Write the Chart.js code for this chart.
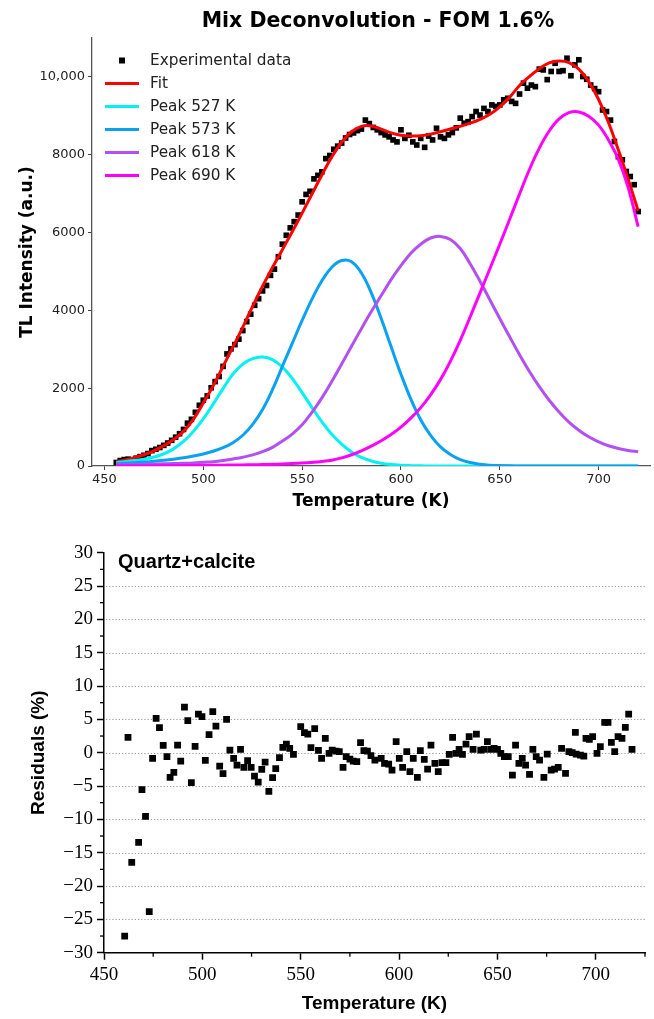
<!DOCTYPE html>
<html>
<head>
<meta charset="utf-8">
<script src="https://cdn.jsdelivr.net/npm/chart.js@4.4.0/dist/chart.umd.min.js"></script>
<style>
  html, body { margin: 0; padding: 0; background: #fff; }
  canvas { position: absolute; left: 0; }
  #top { top: 0; }
  #bottom { top: 520px; }
</style>
</head>
<body>
<canvas id="top" width="654" height="520"></canvas>
<canvas id="bottom" width="654" height="499"></canvas>
<script>
// ---- top chart: deconvolution ----
const topTitleText = 'Mix Deconvolution - FOM 1.6%'
const topXTicks = [450, 500, 550, 600, 650, 700]
const topYTicks = [0, 2000, 4000, 6000, 8000, 10000]
const topYTickLabels = ['0', '2000', '4000', '6000', '8000', '10,000']

const expTemps = [456, 458, 460, 462, 464, 466, 468, 470, 472, 474, 476, 478, 480, 482, 484, 486, 488, 490, 492, 494,
  496, 498, 500, 502, 504, 506, 508, 510, 512, 514, 516, 518, 520, 522, 524, 526, 528, 530, 532, 534,
  536, 538, 540, 542, 544, 546, 548, 550, 552, 554, 556, 558, 560, 562, 564, 566, 568, 570, 572, 574,
  576, 578, 580, 582, 584, 586, 588, 590, 592, 594, 596, 598, 600, 602, 604, 606, 608, 610, 612, 614,
  616, 618, 620, 622, 624, 626, 628, 630, 632, 634, 636, 638, 640, 642, 644, 646, 648, 650, 652, 654,
  656, 658, 660, 662, 664, 666, 668, 670, 672, 674, 676, 678, 680, 682, 684, 686, 688, 690, 692, 694,
  696, 698, 700, 702, 704, 706, 708, 710, 712, 714, 716, 718, 720]
const expValues = [90, 140, 165, 175, 160, 200, 240, 275, 320, 395, 430, 475, 530, 590, 660, 740, 830, 940, 1100, 1200,
  1380, 1560, 1690, 1800, 2010, 2170, 2300, 2560, 2880, 3010, 3120, 3260, 3480, 3710, 3900, 4130, 4300, 4500, 4640, 4900,
  5060, 5380, 5700, 5930, 6120, 6280, 6450, 6790, 6980, 7060, 7380, 7470, 7560, 7900, 7980, 8140, 8220, 8300, 8430, 8520,
  8560, 8620, 8660, 8890, 8800, 8700, 8640, 8570, 8510, 8460, 8380, 8330, 8640, 8420, 8500, 8330, 8250, 8420, 8190, 8480,
  8380, 8680, 8460, 8420, 8510, 8570, 8690, 8940, 8810, 8850, 8980, 9110, 9020, 9190, 9110, 9280, 9240, 9280, 9410, 9450,
  9370, 9320, 9560, 9840, 9710, 9790, 9750, 10200, 10180, 9930, 10140, 10350, 10140, 10160, 10480, 10030, 10310, 10440, 10010, 9940,
  9790, 9700, 9620, 9150, 9110, 8890, 8340, 7950, 7870, 7570, 7440, 7230, 6540]

const curveTemps = [456, 460, 465, 470, 475, 480, 485, 490, 495, 500, 505, 510, 515, 520, 525, 530, 535, 540, 545, 550,
  555, 560, 565, 570, 575, 580, 585, 590, 595, 600, 605, 610, 615, 620, 625, 630, 635, 640, 645, 650,
  655, 660, 665, 670, 675, 680, 685, 690, 695, 700, 705, 710, 715, 720]
const fitValues = [105, 150, 215, 290, 390, 520, 680, 890, 1200, 1620, 2060, 2560, 3060, 3570, 4110, 4620, 5100, 5560, 6020, 6500,
  6990, 7480, 7940, 8320, 8590, 8730, 8740, 8660, 8560, 8500, 8480, 8490, 8530, 8590, 8660, 8730, 8810, 8910, 9040, 9230,
  9480, 9780, 10010, 10210, 10360, 10410, 10370, 10200, 9880, 9420, 8830, 8120, 7360, 6560]
const peak527 = [90, 110, 140, 175, 230, 310, 440, 630, 890, 1210, 1590, 1990, 2360, 2620, 2760, 2800, 2735, 2545, 2250, 1885,
  1500, 1135, 815, 560, 360, 220, 130, 72, 38, 19, 9, 4, 2, 1, 0, 0, 0, 0, 0, 0,
  0, 0, 0, 0, 0, 0, 0, 0, 0, 0, 0, 0, 0, 0]
const peak573 = [60, 70, 85, 100, 120, 145, 175, 210, 255, 310, 380, 470, 600, 790, 1070, 1450, 1960, 2560, 3150, 3740,
  4290, 4760, 5110, 5280, 5250, 4960, 4450, 3790, 3070, 2360, 1720, 1190, 785, 490, 295, 165, 88, 45, 21, 10,
  5, 2, 1, 0, 0, 0, 0, 0, 0, 0, 0, 0, 0, 0]
const peak618 = [25, 30, 35, 40, 48, 55, 62, 70, 80, 95, 110, 140, 180, 225, 285, 370, 480, 640, 820, 1060,
  1380, 1750, 2170, 2620, 3080, 3530, 3970, 4380, 4790, 5150, 5470, 5700, 5860, 5900, 5820, 5590, 5200, 4750, 4270, 3790,
  3320, 2860, 2430, 2040, 1690, 1390, 1130, 920, 750, 620, 520, 450, 400, 365]
const peak690 = [5, 6, 7, 8, 9, 10, 11, 13, 15, 17, 19, 22, 25, 28, 32, 37, 44, 52, 62, 75,
  92, 115, 150, 210, 290, 390, 510, 650, 810, 1000, 1230, 1500, 1830, 2220, 2690, 3230, 3830, 4450, 5070, 5700,
  6340, 6990, 7620, 8170, 8610, 8920, 9080, 9100, 8990, 8760, 8380, 7880, 7150, 6150]

// ---- bottom chart: residuals ----
const resLabel = 'Quartz+calcite'
const resXTicks = [450, 500, 550, 600, 650, 700]
const resYTicks = [30, 25, 20, 15, 10, 5, 0, -5, -10, -15, -20, -25, -30]
const resGridLines = [25, 20, 15, 10, 5, 0, -5, -10, -15, -20, -25]
const resTemps = [460.5, 462.2, 464.1, 467.6, 469.3, 471.1, 473.0, 474.7, 476.5, 478.2, 480.1, 482.0, 483.6, 485.5, 487.4,
  489.0, 490.9, 492.6, 494.4, 496.3, 498.0, 499.8, 501.5, 503.4, 505.3, 506.9, 508.8, 510.5, 512.3, 514.0,
  515.9, 517.6, 519.4, 521.1, 523.0, 524.8, 526.5, 528.4, 530.2, 531.9, 533.8, 535.7, 537.3, 539.2, 540.9,
  542.7, 544.4, 546.3, 550.0, 551.9, 553.6, 555.2, 557.1, 559.0, 560.6, 562.5, 564.4, 566.0, 567.9, 569.6,
  571.5, 573.1, 575.0, 576.7, 578.5, 580.4, 582.1, 583.9, 585.7, 587.7, 590.9, 592.6, 594.7, 596.4, 598.5,
  600.1, 601.8, 603.9, 605.5, 607.2, 609.3, 610.8, 612.8, 614.5, 616.2, 618.2, 619.9, 621.8, 623.8, 625.5,
  627.2, 628.9, 630.5, 632.2, 634.0, 635.6, 637.6, 639.3, 641.5, 643.2, 644.9, 646.6, 648.3, 650.0, 651.7,
  653.5, 655.5, 657.6, 659.2, 660.9, 662.6, 664.3, 666.3, 668.0, 669.7, 671.4, 673.6, 675.3, 677.3, 679.0,
  680.9, 682.6, 684.6, 686.3, 688.0, 689.6, 690.0, 692.2, 693.9, 695.0, 696.7, 698.4, 700.6, 702.3, 704.5,
  706.2, 707.9, 709.6, 711.3, 713.3, 715.0, 716.7, 718.4]
const resValues = [-27.5, 2.3, -16.45, -13.45, -5.55, -9.55, -23.85, -0.85, 5.15, 3.75, 1.1, -0.6, -3.7, -2.95, 1.15,
  -1.25, 6.85, 4.8, -4.5, 0.95, 5.8, 5.4, -1.15, 2.7, 6.15, 4.0, -2.0, -3.15, 5.0, 0.4,
  -0.85, -1.85, 0.5, -2.2, -1.2, -2.2, -3.5, -4.4, -2.5, -1.4, -5.8, -3.75, -2.4, -0.75, 0.8,
  1.3, 0.65, -0.25, 3.9, 3.0, 2.8, 0.75, 3.6, 0.35, -0.85, 2.15, -0.1, 0.4, 0.25, 0.15,
  -2.2, -0.6, -0.95, -1.25, -1.35, 1.5, 0.3, 0.25, -0.45, -1.1, -0.85, -1.6, -1.7, -2.6, 1.65,
  -0.85, -2.2, 0.15, -2.85, -0.85, -3.7, 0.3, -1.0, -2.45, 1.15, -1.6, -2.85, -1.5, -1.5, -0.25,
  2.3, -0.1, 0.5, -0.25, 1.3, 2.4, 0.5, 2.8, 0.4, 0.5, 1.65, 0.5, 0.65, 0.5, -0.1,
  -0.6, -0.6, -3.35, 1.15, -1.6, -0.85, -1.85, -3.25, 0.5, -0.6, -1.1, -3.7, -0.2, -2.6, -2.45,
  -2.2, 0.65, -3.1, 0.15, 0, 3.05, -0.2, -0.35, -0.5, 2.15, 2.0, 2.4, -0.1, 0.9, 4.55,
  4.55, 1.55, 0.15, 2.4, 2.15, 3.8, 5.8, 0.5]

const toPoints = (xs, ys) => xs.map((x, i) => ({x: x, y: ys[i]}))

const curve = (label, color, values, order) => ({
  label: label,
  data: toPoints(curveTemps, values),
  borderColor: color,
  backgroundColor: color,
  borderWidth: 3,
  pointRadius: 0,
  showLine: true,
  tension: 0.4,
  order: order
})

// title centred over the axes, legend drawn inside the plot
const topDecor = {
  id: 'topDecor',
  afterDraw(chart) {
    const {ctx, chartArea} = chart
    ctx.save()
    ctx.fillStyle = '#000'
    ctx.font = 'bold 20.5px "DejaVu Sans"'
    ctx.textAlign = 'center'
    ctx.textBaseline = 'middle'
    ctx.fillText(topTitleText, (chartArea.left + chartArea.right) / 2 + 7, 22)

    ctx.font = '15.3px "DejaVu Sans"'
    ctx.textAlign = 'left'
    chart.data.datasets.forEach((ds, i) => {
      const y = chartArea.top + 22.5 + i * 23
      const x0 = chartArea.left + 13
      if (ds.showLine) {
        ctx.strokeStyle = ds.borderColor
        ctx.lineWidth = 3
        ctx.beginPath()
        ctx.moveTo(x0, y)
        ctx.lineTo(x0 + 34, y)
        ctx.stroke()
      } else {
        ctx.fillStyle = '#000'
        ctx.fillRect(x0 + 14, y - 3, 6, 6)
      }
      ctx.fillStyle = '#222'
      ctx.fillText(ds.label, chartArea.left + 58, y + 1)
    })
    ctx.restore()
  }
}

new Chart(document.getElementById('top'), {
  type: 'scatter',
  data: {
    datasets: [
      {
        label: 'Experimental data',
        data: toPoints(expTemps, expValues),
        pointStyle: 'rect',
        pointRadius: 4,
        borderWidth: 0,
        backgroundColor: '#000',
        order: 6
      },
      curve('Fit', '#ff0000', fitValues, 5),
      curve('Peak 527 K', '#00f2f2', peak527, 4),
      curve('Peak 573 K', '#0aa2f0', peak573, 3),
      curve('Peak 618 K', '#b250f2', peak618, 2),
      curve('Peak 690 K', '#ff00ff', peak690, 1)
    ]
  },
  options: {
    responsive: false,
    animation: false,
    layout: {padding: {left: 0, right: 3, top: 38, bottom: 0}},
    plugins: {legend: {display: false}, tooltip: {enabled: false}},
    scales: {
      x: {
        type: 'linear',
        min: 443.7,
        max: 726,
        afterBuildTicks: s => { s.ticks = topXTicks.map(v => ({value: v})) },
        afterFit: s => { s.height = 54 },
        grid: {drawOnChartArea: false, tickLength: 4, tickColor: '#444', tickWidth: 1},
        border: {display: true, color: '#555', width: 1.3},
        ticks: {color: '#222', font: {family: 'DejaVu Sans', size: 13}, padding: 2, maxRotation: 0},
        title: {
          display: true, text: 'Temperature (K)', color: '#000',
          font: {family: 'DejaVu Sans', size: 17, weight: 'bold'},
          padding: {top: 0, bottom: 8}
        }
      },
      y: {
        type: 'linear',
        min: 0,
        max: 11000,
        afterBuildTicks: s => { s.ticks = topYTicks.map(v => ({value: v})) },
        afterFit: s => { s.width = 92 },
        grid: {drawOnChartArea: false, tickLength: 4, tickColor: '#444', tickWidth: 1},
        border: {display: true, color: '#555', width: 1.3},
        ticks: {
          color: '#222', font: {family: 'DejaVu Sans', size: 13}, padding: 3,
          callback: v => topYTickLabels[topYTicks.indexOf(v)]
        },
        title: {
          display: true, text: 'TL Intensity (a.u.)', color: '#000',
          font: {family: 'DejaVu Sans', size: 17, weight: 'bold'},
          padding: {top: 17, bottom: 0}
        }
      }
    }
  },
  plugins: [topDecor]
})

// dotted grid, minor ticks and the sample label
const resDecor = {
  id: 'resDecor',
  beforeDatasetsDraw(chart) {
    const {ctx, chartArea, scales} = chart
    ctx.save()
    ctx.strokeStyle = '#9a9a9a'
    ctx.lineWidth = 1
    ctx.setLineDash([1.2, 2])
    resGridLines.forEach(v => {
      const y = Math.round(scales.y.getPixelForValue(v)) + 0.5
      ctx.beginPath()
      ctx.moveTo(chartArea.left + 2, y)
      ctx.lineTo(chartArea.right, y)
      ctx.stroke()
    })
    ctx.restore()
  },
  afterDraw(chart) {
    const {ctx, chartArea, scales} = chart
    ctx.save()
    ctx.strokeStyle = '#000'
    ctx.lineWidth = 1.3
    for (let v = -27.5; v < 30; v += 5) {
      const y = scales.y.getPixelForValue(v)
      ctx.beginPath()
      ctx.moveTo(chartArea.left - 4, y)
      ctx.lineTo(chartArea.left, y)
      ctx.stroke()
    }
    for (let v = 475; v <= 725; v += 50) {
      const x = scales.x.getPixelForValue(v)
      ctx.beginPath()
      ctx.moveTo(x, chartArea.bottom)
      ctx.lineTo(x, chartArea.bottom + 4)
      ctx.stroke()
    }
    ctx.fillStyle = '#000'
    ctx.font = 'bold 20px "Liberation Sans"'
    ctx.textAlign = 'left'
    ctx.textBaseline = 'middle'
    ctx.fillText(resLabel, chartArea.left + 14, chartArea.top + 10)
    ctx.restore()
  }
}

new Chart(document.getElementById('bottom'), {
  type: 'scatter',
  data: {
    datasets: [{
      label: 'Residuals',
      data: toPoints(resTemps, resValues),
      pointStyle: 'rect',
      pointRadius: 4.8,
      borderWidth: 0,
      backgroundColor: '#000'
    }]
  },
  options: {
    responsive: false,
    animation: false,
    layout: {padding: {left: 0, right: 9, top: 32.7, bottom: 0}},
    plugins: {legend: {display: false}, tooltip: {enabled: false}},
    scales: {
      x: {
        type: 'linear',
        min: 450,
        max: 725,
        afterBuildTicks: s => { s.ticks = resXTicks.map(v => ({value: v})) },
        afterFit: s => { s.height = 66.3 },
        grid: {drawOnChartArea: false, tickLength: 7, tickColor: '#000', tickWidth: 1.5},
        border: {display: true, color: '#000', width: 1.5},
        ticks: {color: '#000', font: {family: 'Liberation Serif', size: 19}, padding: 4, maxRotation: 0},
        title: {
          display: true, text: 'Temperature (K)', color: '#000',
          font: {family: 'Liberation Sans', size: 19, weight: 'bold'},
          padding: {top: 0, bottom: 4}
        }
      },
      y: {
        type: 'linear',
        min: -30,
        max: 30,
        afterBuildTicks: s => { s.ticks = resYTicks.map(v => ({value: v})) },
        afterFit: s => { s.width = 104 },
        grid: {drawOnChartArea: false, tickLength: 7, tickColor: '#000', tickWidth: 1.5},
        border: {display: true, color: '#000', width: 1.5},
        ticks: {
          color: '#000', font: {family: 'Liberation Serif', size: 19}, padding: 4,
          callback: v => v < 0 ? '\u2212' + Math.abs(v) : String(v)
        },
        title: {
          display: true, text: 'Residuals (%)', color: '#000',
          font: {family: 'Liberation Sans', size: 19, weight: 'bold'},
          padding: {top: 27, bottom: 0}
        }
      }
    }
  },
  plugins: [resDecor]
})
</script>
</body>
</html>
